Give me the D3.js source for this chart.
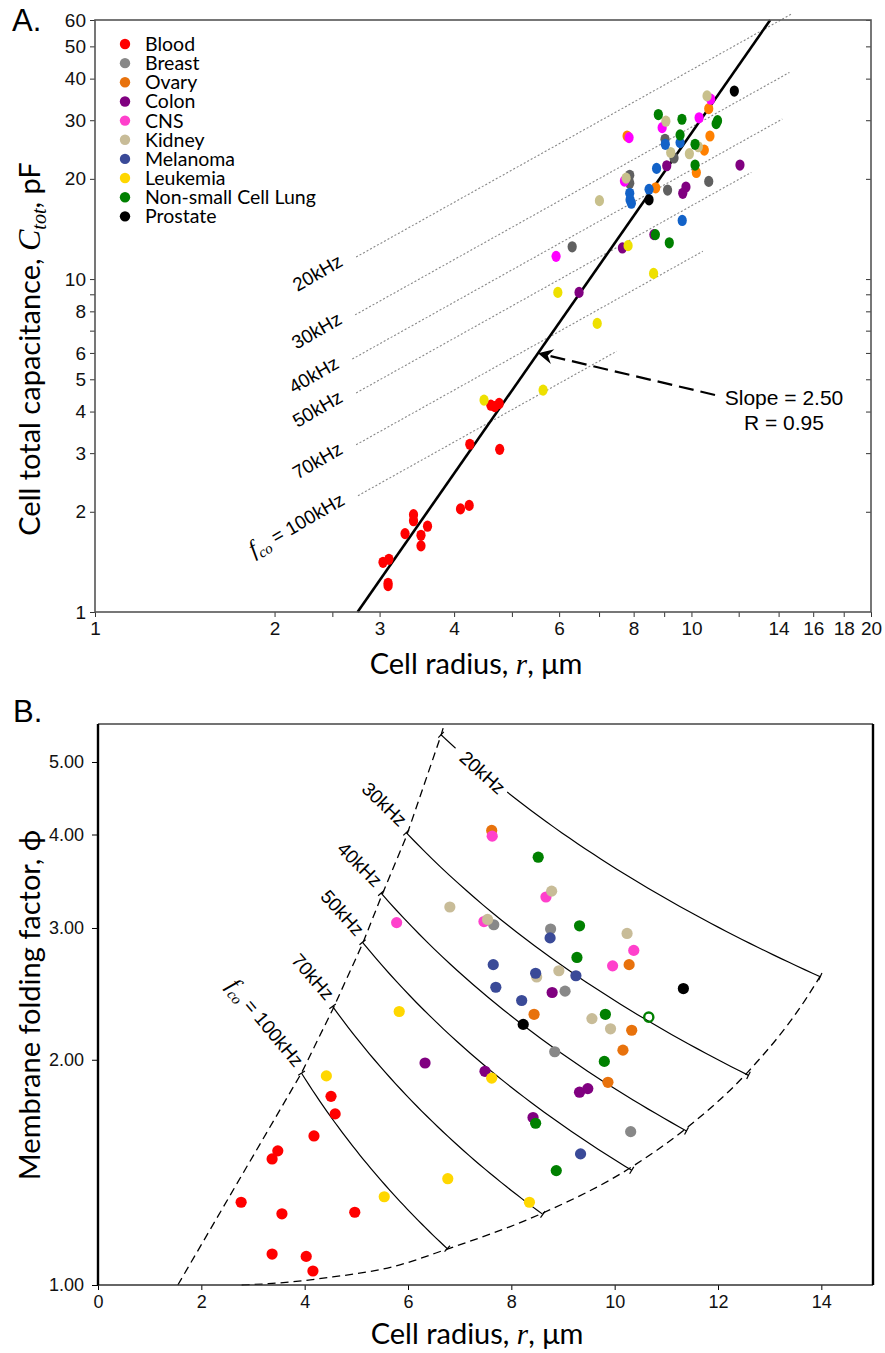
<!DOCTYPE html>
<html>
<head>
<meta charset="utf-8">
<script src="https://cdn.jsdelivr.net/npm/d3@7"></script>
<style>
  body { margin: 0; background: #fff; }
  svg { display: block; }
</style>
</head>
<body>
<svg id="chart" width="885" height="1353"></svg>
<script>
// ---- categories / legend ----
const categories = ["Blood", "Breast", "Ovary", "Colon", "CNS", "Kidney", "Melanoma", "Leukemia", "Non-small Cell Lung", "Prostate"];

// ---- panel A: cell radius (um) vs total capacitance (pF) ----
const aBlood = [[4.61,4.18],[4.68,4.14],[4.76,4.23],[4.25,3.19],[4.77,3.08],[4.10,2.04],[4.24,2.09],[3.42,1.96],[3.42,1.88],[3.61,1.81],[3.31,1.72],[3.52,1.70],[3.52,1.58],[3.04,1.41],[3.11,1.44],[3.10,1.22],[3.10,1.20]];
const aBreast = [[9.03,26.3],[9.35,23.1],[10.69,19.65],[7.88,20.5],[7.88,19.4],[9.12,18.5],[6.31,12.5]];
const aOvary = [[10.69,32.5],[7.80,26.9],[10.74,26.9],[10.51,24.4],[10.19,20.9],[8.71,18.8]];
const aColon = [[9.09,21.9],[12.06,22.0],[9.79,18.9],[9.67,18.1],[8.65,13.6],[7.66,12.4],[6.48,9.12]];
const aCNS = [[10.77,34.7],[10.30,30.5],[8.93,28.5],[7.86,26.6],[7.72,19.7],[5.93,11.7]];
const aKidney = [[10.62,35.5],[9.06,29.8],[10.27,24.97],[9.23,24.0],[9.92,23.8],[7.77,20.1],[7.01,17.2]];
const aMelanoma = [[9.04,25.4],[9.57,25.7],[8.74,21.5],[8.49,18.6],[7.88,18.1],[7.89,17.3],[7.93,16.9],[9.65,15.0]];
const aLeukemia = [[7.83,12.6],[8.64,10.4],[5.97,9.12],[6.95,7.36],[5.64,4.64],[4.49,4.33]];
const aLung = [[8.80,31.2],[9.64,30.2],[11.06,29.9],[11.0,29.3],[9.57,27.1],[10.14,25.4],[10.14,22.0],[8.70,13.6],[9.18,12.85]];
const aProstate = [[11.80,36.7],[8.49,17.3]];

// constant cut-off frequency lines in A: C = k * r
const freqLabels = ["20kHz", "30kHz", "40kHz", "50kHz", "70kHz", "100kHz"];
const aFreqK = [4.25, 2.86, 2.13, 1.66, 1.16, 0.81];
const aFreqStart = [2.74, 2.73, 2.70, 2.74, 2.74, 2.76];
const aFreqEnd = [14.7, 14.6, 14.2, 12.6, 10.45, 7.49];

// power-law fit in A
const fitSlope = 2.57;
const fitAnchor = [5.53, 5.99];
const fitText = ["Slope = 2.50", "R = 0.95"];

const aXTicks = [1, 2, 2.5, 3, 4, 5, 6, 7, 8, 9, 10, 12, 14, 16, 18, 20];
const aXLabels = [1, 2, 3, 4, 6, 8, 10, 14, 16, 18, 20];
const aYTicks = [1, 2, 3, 4, 5, 6, 7, 8, 9, 10, 20, 30, 40, 50, 60];
const aYLabels = [1, 2, 3, 4, 5, 6, 8, 10, 20, 30, 40, 50, 60];

// ---- panel B: cell radius (um) vs membrane folding factor ----
const bBlood = [[4.51,1.787],[4.59,1.693],[4.18,1.582],[3.48,1.511],[3.37,1.474],[2.77,1.290],[3.56,1.245],[4.97,1.251],[3.37,1.100],[4.03,1.092],[4.16,1.044]];
const bBreast = [[7.66,3.03],[8.76,2.99],[9.04,2.47],[8.84,2.05],[10.31,1.603]];
const bOvary = [[7.62,4.05],[10.28,2.68],[8.44,2.30],[10.33,2.19],[10.16,2.06],[9.87,1.866]];
const bColon = [[6.33,1.98],[8.79,2.46],[7.49,1.93],[9.32,1.81],[9.48,1.83],[8.42,1.674]];
const bCNS = [[7.63,3.98],[8.67,3.30],[5.78,3.05],[7.47,3.06],[10.37,2.80],[9.96,2.67]];
const bKidney = [[8.78,3.36],[6.81,3.20],[7.54,3.08],[10.24,2.95],[8.92,2.63],[8.49,2.58],[9.56,2.27],[9.92,2.20]];
const bMelanoma = [[8.75,2.91],[7.65,2.68],[8.47,2.61],[9.25,2.59],[7.70,2.50],[8.20,2.40],[9.34,1.497]];
const bLeukemia = [[5.83,2.32],[4.42,1.903],[7.62,1.89],[6.77,1.387],[5.54,1.312],[8.35,1.290]];
const bLung = [[8.52,3.73],[9.32,3.02],[9.27,2.74],[9.82,2.30],[9.80,1.99],[8.47,1.645],[8.87,1.422]];
const bLungOpen = [[10.66,2.28]];
const bProstate = [[11.33,2.49],[8.23,2.23]];

// constant frequency curves in B: phi = K / r
const bFreqK = [36.1, 24.0, 18.3, 14.7, 10.7, 7.56];
const bFreqStart = [6.64, 5.965, 5.48, 5.12, 4.54, 3.94];
const bFreqEnd = [13.98, 12.59, 11.39, 10.33, 8.61, 6.76];
const bFreqGap = [[6.92, 7.92], null, null, null, null, null];
const bLabelAngle = [42, 44, 45, 48, 49, 50];
const bLeftEdge = [[1.545,1.0],[3.94,1.921],[4.54,2.333],[5.12,2.857],[5.48,3.30],[5.965,3.97],[6.64,5.43],[6.68,5.55]];
const bBottomEdge = [[2.78,1.0],[3.3,1.004],[4.54,1.025],[5.69,1.057],[6.76,1.117],[8.61,1.248],[10.33,1.438],[11.39,1.621],[12.59,1.93],[13.69,2.405],[13.98,2.588]];

const bXTicks = [0, 2, 4, 6, 8, 10, 12, 14];
const bYTicks = [1, 2, 3, 4, 5];

// ---- colours ----
const colorA = {"Blood": "#ff0000", "Breast": "#606060", "Ovary": "#ff8000", "Colon": "#800080", "CNS": "#ff00ff",
  "Kidney": "#c8c08c", "Melanoma": "#1262c8", "Leukemia": "#eee000", "Non-small Cell Lung": "#008000", "Prostate": "#000000"};
const colorB = {"Blood": "#ff0000", "Breast": "#888888", "Ovary": "#e8720c", "Colon": "#800080", "CNS": "#ff40cc",
  "Kidney": "#c8bc98", "Melanoma": "#3a4a98", "Leukemia": "#ffd700", "Non-small Cell Lung": "#008000", "Prostate": "#000000"};

const aSets = [aBlood, aBreast, aOvary, aColon, aCNS, aKidney, aMelanoma, aLeukemia, aLung, aProstate];
const bSets = [bBlood, bBreast, bOvary, bColon, bCNS, bKidney, bMelanoma, bLeukemia, bLung, bProstate];

const svg = d3.select("#chart");
const SANS = "Lato, 'Open Sans', sans-serif";
const ARIAL = "'Liberation Sans', Arial, sans-serif";
const SERIF = "'Liberation Serif', 'Times New Roman', serif";

// =================== PANEL A ===================
const xA = d3.scaleLog().domain([1, 20]).range([95, 871]);
const yA = d3.scaleLog().domain([1, 60]).range([612, 20]);
const gA = svg.append("g");

// frequency lines (dotted)
freqLabels.forEach((lab, i) => {
  const r0 = aFreqStart[i], r1 = aFreqEnd[i], k = aFreqK[i];
  gA.append("line")
    .attr("x1", xA(r0)).attr("y1", yA(k * r0))
    .attr("x2", xA(r1)).attr("y2", yA(k * r1))
    .attr("stroke", "#888").attr("stroke-width", 1.1).attr("stroke-dasharray", "2,2");
  const t = gA.append("text")
    .attr("transform", `translate(${xA(r0) - 12},${yA(k * r0) + 8}) rotate(-30)`)
    .attr("text-anchor", "end")
    .style("font-family", ARIAL).style("font-size", "19px");
  if (i === freqLabels.length - 1) {
    t.append("tspan").style("font-family", SERIF).style("font-style", "italic").style("font-size", "23px").text("f");
    t.append("tspan").style("font-family", SERIF).style("font-style", "italic").style("font-size", "15px").attr("dy", 5).text("co");
    t.append("tspan").attr("dy", -5).text(" = " + lab);
  } else {
    t.text(lab);
  }
});

// fit line
const fitR = c => fitAnchor[0] * Math.pow(c / fitAnchor[1], 1 / fitSlope);
gA.append("line")
  .attr("x1", xA(fitR(1))).attr("y1", yA(1))
  .attr("x2", xA(fitR(60))).attr("y2", yA(60))
  .attr("stroke", "#000").attr("stroke-width", 2.6);

// points
categories.forEach((c, i) => {
  gA.append("g").selectAll("ellipse").data(aSets[i]).join("ellipse")
    .attr("cx", d => xA(d[0])).attr("cy", d => yA(d[1]))
    .attr("rx", 4.6).attr("ry", 5.6)
    .attr("fill", colorA[c]);
});

// arrow + annotation
const tipX = xA(fitAnchor[0]), tipY = yA(fitAnchor[1]);
const txtX = 784, txtY = 405;
const tailX = txtX - 69, tailY = txtY - 10;
const ang = Math.atan2(tipY - tailY, tipX - tailX);
gA.append("line")
  .attr("x1", tailX).attr("y1", tailY)
  .attr("x2", tipX - 12 * Math.cos(ang)).attr("y2", tipY - 12 * Math.sin(ang))
  .attr("stroke", "#000").attr("stroke-width", 2.2).attr("stroke-dasharray", "15,7");
gA.append("path")
  .attr("d", "M0,0 L-15,-7.5 L-10,0 L-15,7.5 Z")
  .attr("transform", `translate(${tipX},${tipY}) rotate(${ang * 180 / Math.PI})`)
  .attr("fill", "#000");
const fitLabel = gA.append("text").attr("text-anchor", "middle")
  .style("font-family", ARIAL).style("font-size", "21px");
fitText.forEach((s, i) => {
  fitLabel.append("tspan").attr("x", txtX).attr("y", txtY + i * 25).text(s);
});

// axes
const axA = gA.append("g").style("font-family", SANS);
axA.append("g").attr("transform", "translate(95,0)")
  .call(d3.axisLeft(yA).tickValues(aYTicks).tickFormat(d => aYLabels.includes(d) ? d : "").tickSize(5).tickPadding(4));
axA.append("g").attr("transform", "translate(871,0)")
  .call(d3.axisLeft(yA).tickValues(aYTicks.slice(1)).tickFormat("").tickSize(5));
axA.append("g").attr("transform", "translate(0,612)")
  .call(d3.axisBottom(xA).tickValues(aXTicks).tickFormat(d => aXLabels.includes(d) ? d : "").tickSize(5).tickPadding(5));
axA.selectAll(".domain").remove();
axA.selectAll(".tick line").attr("stroke", "#333");
axA.selectAll(".tick text").style("font-size", "19px").attr("fill", "#111");
gA.append("rect").attr("x", 95).attr("y", 20).attr("width", 776).attr("height", 592)
  .attr("fill", "none").attr("stroke", "#555").attr("stroke-width", 1.6);

// legend (markers + one multi-line label block)
const leg = gA.append("g");
leg.selectAll("circle").data(categories).join("circle")
  .attr("cx", 125).attr("cy", (d, i) => 44 + i * 19.15).attr("r", 5.2).attr("fill", d => colorB[d]);
leg.append("text")
  .style("font-family", SANS).style("font-size", "19.5px")
  .selectAll("tspan").data(categories).join("tspan")
  .attr("x", 145).attr("y", (d, i) => 44 + i * 19.15 + 7).text(d => d);

// titles
gA.append("text").attr("x", 12).attr("y", 31).style("font-family", ARIAL).style("font-size", "31px").text("A.");
const xtA = gA.append("text").attr("x", 476).attr("y", 674).attr("text-anchor", "middle")
  .style("font-family", SANS).style("font-size", "29px");
xtA.append("tspan").text("Cell radius, ");
xtA.append("tspan").style("font-family", SERIF).style("font-style", "italic").text("r");
xtA.append("tspan").text(", μm");
const ytA = gA.append("text").attr("transform", "translate(40,349) rotate(-90)").attr("text-anchor", "middle")
  .style("font-family", SANS).style("font-size", "29px");
ytA.append("tspan").text("Cell total capacitance, ");
ytA.append("tspan").style("font-family", SERIF).style("font-style", "italic").style("font-size", "32px").text("C");
ytA.append("tspan").style("font-family", SERIF).style("font-style", "italic").style("font-size", "20px").attr("dy", 6).text("tot");
ytA.append("tspan").attr("dy", -6).text(", pF");

// =================== PANEL B ===================
const xB = d3.scaleLinear().domain([0, 15]).range([98, 873]);
const yB = d3.scaleLog().domain([1, 5.62]).range([1285, 724]);
const gB = svg.append("g");

const lineB = d3.line().x(d => xB(d[0])).y(d => yB(d[1]));
const smoothB = d3.line().x(d => xB(d[0])).y(d => yB(d[1])).curve(d3.curveMonotoneX);

// dashed boundaries
gB.append("path").attr("d", lineB(bLeftEdge))
  .attr("fill", "none").attr("stroke", "#000").attr("stroke-width", 1.3).attr("stroke-dasharray", "8,5");
gB.append("path").attr("d", smoothB(bBottomEdge))
  .attr("fill", "none").attr("stroke", "#000").attr("stroke-width", 1.3).attr("stroke-dasharray", "8,5");

// constant-frequency curves
function curvePts(K, r0, r1) {
  return d3.range(0, 41).map(j => { const r = r0 + (r1 - r0) * j / 40; return [r, K / r]; });
}
freqLabels.forEach((lab, i) => {
  const K = bFreqK[i], r0 = bFreqStart[i], r1 = bFreqEnd[i], gap = bFreqGap[i];
  const segs = gap ? [[r0, gap[0]], [gap[1], r1]] : [[r0, r1]];
  segs.forEach(s => gB.append("path").attr("d", lineB(curvePts(K, s[0], s[1])))
    .attr("fill", "none").attr("stroke", "#000").attr("stroke-width", 1.2));
  // end caps perpendicular to the curve
  [r0, r1].forEach(r => {
    const p = [xB(r), yB(K / r)];
    const q = [xB(r + 0.05), yB(K / (r + 0.05))];
    const a = Math.atan2(q[1] - p[1], q[0] - p[0]);
    gB.append("line")
      .attr("x1", p[0] - 4 * Math.sin(a)).attr("y1", p[1] + 4 * Math.cos(a))
      .attr("x2", p[0] + 4 * Math.sin(a)).attr("y2", p[1] - 4 * Math.cos(a))
      .attr("stroke", "#000").attr("stroke-width", 1.2);
  });
  let t;
  if (gap) {
    const rm = (gap[0] + gap[1]) / 2;
    t = gB.append("text")
      .attr("transform", `translate(${xB(rm)},${yB(K / rm)}) rotate(${bLabelAngle[i]})`)
      .attr("x", 2).attr("y", 7).attr("text-anchor", "middle");
  } else {
    t = gB.append("text")
      .attr("transform", `translate(${xB(r0) - 7},${yB(K / r0) - 5}) rotate(${bLabelAngle[i]})`)
      .attr("text-anchor", "end");
  }
  t.style("font-family", ARIAL).style("font-size", "19px");
  if (i === freqLabels.length - 1) {
    t.append("tspan").style("font-family", SERIF).style("font-style", "italic").style("font-size", "23px").text("f");
    t.append("tspan").style("font-family", SERIF).style("font-style", "italic").style("font-size", "15px").attr("dy", 5).text("co");
    t.append("tspan").attr("dy", -5).text(" = " + lab);
  } else {
    t.text(lab);
  }
});

// points
categories.forEach((c, i) => {
  gB.append("g").selectAll("circle").data(bSets[i]).join("circle")
    .attr("cx", d => xB(d[0])).attr("cy", d => yB(d[1]))
    .attr("r", 5.6).attr("fill", colorB[c]);
});
gB.append("g").selectAll("circle").data(bLungOpen).join("circle")
  .attr("cx", d => xB(d[0])).attr("cy", d => yB(d[1]))
  .attr("r", 4.6).attr("fill", "none").attr("stroke", colorB["Non-small Cell Lung"]).attr("stroke-width", 2.4);

// axes
const axB = gB.append("g").style("font-family", "'Open Sans', sans-serif");
axB.append("g").attr("transform", "translate(98,0)")
  .call(d3.axisLeft(yB).tickValues(bYTicks).tickFormat(d3.format(".2f")).tickSize(6).tickPadding(8));
axB.append("g").attr("transform", "translate(0,1285)")
  .call(d3.axisBottom(xB).tickValues(bXTicks).tickFormat(d3.format("d")).tickSize(5).tickPadding(5));
axB.selectAll(".domain").remove();
axB.selectAll(".tick text").style("font-size", "18px").attr("fill", "#111");
gB.append("line").attr("x1", 98).attr("x2", 873).attr("y1", 724).attr("y2", 724).attr("stroke", "#444").attr("stroke-width", 1.6);
gB.append("line").attr("x1", 98).attr("x2", 873).attr("y1", 1285).attr("y2", 1285).attr("stroke", "#333").attr("stroke-width", 1.6);
gB.append("line").attr("x1", 98).attr("x2", 98).attr("y1", 724).attr("y2", 1285).attr("stroke", "#000").attr("stroke-width", 2.4);
gB.append("line").attr("x1", 873).attr("x2", 873).attr("y1", 724).attr("y2", 1285).attr("stroke", "#000").attr("stroke-width", 2.4);

// titles
gB.append("text").attr("x", 13).attr("y", 722).style("font-family", ARIAL).style("font-size", "31px").text("B.");
const xtB = gB.append("text").attr("x", 477).attr("y", 1344).attr("text-anchor", "middle")
  .style("font-family", SANS).style("font-size", "29px");
xtB.append("tspan").text("Cell radius, ");
xtB.append("tspan").style("font-family", SERIF).style("font-style", "italic").text("r");
xtB.append("tspan").text(", μm");
gB.append("text").attr("transform", "translate(40,1005) rotate(-90)").attr("text-anchor", "middle")
  .style("font-family", SANS).style("font-size", "29px").text("Membrane folding factor, ϕ");
</script>
</body>
</html>
